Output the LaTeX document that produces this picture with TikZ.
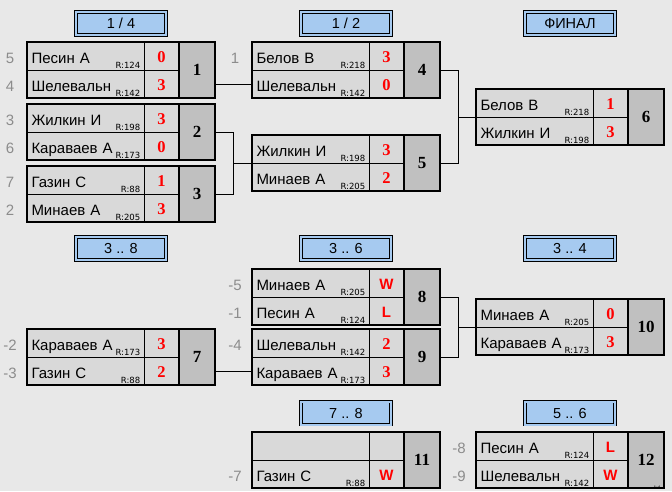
\documentclass[tikz,border=0pt]{standalone}
\usepackage{fontspec}
\setmainfont{Liberation Sans}
\setsansfont{Liberation Sans}
\newfontfamily\scorefont{Liberation Serif}
\newfontfamily\rfont{DejaVu Sans}
\definecolor{bg}{RGB}{232,232,232}
\definecolor{cellgray}{RGB}{217,217,217}
\definecolor{numgray}{RGB}{192,192,192}
\definecolor{headblue}{RGB}{166,202,240}
\definecolor{seedgray}{RGB}{140,140,140}
\definecolor{scorered}{RGB}{255,0,0}
\tikzset{
	cell/.style={draw, line width=.8pt, fill=cellgray, anchor=north west, inner sep=0pt, outer sep=0pt, minimum height=28pt},
	namecell/.style={cell, minimum width=117pt, text width=108pt, align=left, text height=15pt, text depth=0pt, font=\fontsize{15}{17}\selectfont},
	scorecell/.style={cell, minimum width=35pt, text=scorered, text height=12.5pt, text depth=0pt, font=\scorefont\bfseries\fontsize{16.5}{18}\selectfont},
	numcell/.style={cell, fill=numgray, minimum width=36pt, minimum height=56pt, font=\scorefont\bfseries\fontsize{17}{19}\selectfont},
	rlabel/.style={inner sep=.5pt, anchor=base east, font=\rfont\fontsize{8.5}{10}\selectfont},
	seed/.style={text=seedgray, font=\fontsize{15}{17}\selectfont},
	head/.style={draw, line width=.7pt, double=headblue, double distance=2pt, fill=headblue, minimum width=90pt, minimum height=23pt, font=\fontsize{14.5}{16}\selectfont},
	conn/.style={line width=.8pt},
	border/.style={line width=2pt}
}
\newcommand{\wl}[1]{{\sffamily\fontsize{15}{17}\selectfont #1}}
\newcommand{\matchbox}[9]{%
	\node[namecell] (m#1-a) at (#2,#3) {#4};
	\node[namecell] (m#1-b) at (m#1-a.south west) {#7};
	\node[scorecell] (m#1-as) at (m#1-a.north east) {#6};
	\node[scorecell] (m#1-bs) at (m#1-as.south west) {#9};
	\node[numcell] (m#1-n) at (m#1-as.north east) {#1};
	\node[rlabel] (m#1-ar) at ([xshift=-3pt,yshift=2pt]m#1-a.south east) {#5};
	\node[rlabel] (m#1-br) at ([xshift=-3pt,yshift=2pt]m#1-b.south east) {#8};
	\draw[border] (m#1-a.north west) rectangle (m#1-n.south east);
	\draw[line width=1.6pt] (m#1-n.north west) -- (m#1-n.south west);
}
\begin{document}
\begin{tikzpicture}[x=1pt,y=-1pt]
	\fill[bg] (0,0) rectangle (672,491);
	\useasboundingbox (0,0) rectangle (672,491);
	\foreach \n/\x/\y/\t in {1/121/23.5/{1 / 4}, 2/346/23.5/{1 / 2}, 3/570/23.5/{ФИНАЛ}, 4/121/248.5/{3 .. 8}, 5/346/248.5/{3 .. 6}, 6/570/248.5/{3 .. 4}, 7/346/413/{7 .. 8}, 8/570/413/{5 .. 6}}
		\node[head] (h\n) at (\x,\y) {\t};
	\matchbox{1}{27}{42}{Песин А}{R:124}{0}{Шелевальн}{R:142}{3}
	\matchbox{2}{27}{104}{Жилкин И}{R:198}{3}{Караваев А}{R:173}{0}
	\matchbox{3}{27}{166}{Газин С}{R:88}{1}{Минаев А}{R:205}{3}
	\matchbox{4}{252}{42}{Белов В}{R:218}{3}{Шелевальн}{R:142}{0}
	\matchbox{5}{252}{135}{Жилкин И}{R:198}{3}{Минаев А}{R:205}{2}
	\matchbox{6}{476}{89}{Белов В}{R:218}{1}{Жилкин И}{R:198}{3}
	\matchbox{7}{27}{329}{Караваев А}{R:173}{3}{Газин С}{R:88}{2}
	\matchbox{8}{252}{269}{Минаев А}{R:205}{\wl{W}}{Песин А}{R:124}{\wl{L}}
	\matchbox{9}{252}{329}{Шелевальн}{R:142}{2}{Караваев А}{R:173}{3}
	\matchbox{10}{476}{299}{Минаев А}{R:205}{0}{Караваев А}{R:173}{3}
	\matchbox{11}{252}{432}{}{}{}{Газин С}{R:88}{\wl{W}}
	\matchbox{12}{476}{432}{Песин А}{R:124}{\wl{L}}{Шелевальн}{R:142}{\wl{W}}
	\foreach \cl/\t in {m1-a/5, m1-b/4, m2-a/3, m2-b/6, m3-a/7, m3-b/2, m4-a/1, m7-a/-2, m7-b/-3, m8-a/-5, m8-b/-1, m9-a/-4, m11-b/-7, m12-a/-8, m12-b/-9}
		\node[seed] (s-\cl) at ([xshift=-17pt,yshift=-2pt]\cl.west) {\t};
	\draw[conn] (m1-b.east -| m1-n.east) -- (m4-b.west);
	\draw[conn] (m2-n.east) -- ++(18.5,0) coordinate (j1) |- (m3-n.east);
	\draw[conn] (m5-a.south west) -- (m5-a.south west -| j1);
	\draw[conn] (m4-n.east) -- ++(18.5,0) coordinate (j2) |- (m5-n.east);
	\draw[conn] (m6-a.south west) -- (m6-a.south west -| j2);
	\draw[conn] (m7-b.east -| m7-n.east) -- (m9-b.west);
	\draw[conn] (m8-n.east) -- ++(18.5,0) coordinate (j3) |- (m9-n.east);
	\draw[conn] (m10-a.south west) -- (m10-a.south west -| j3);
	\node[font=\fontsize{5}{5}\selectfont] (pg) at (657,488) {1:4};
\end{tikzpicture}
\end{document}
